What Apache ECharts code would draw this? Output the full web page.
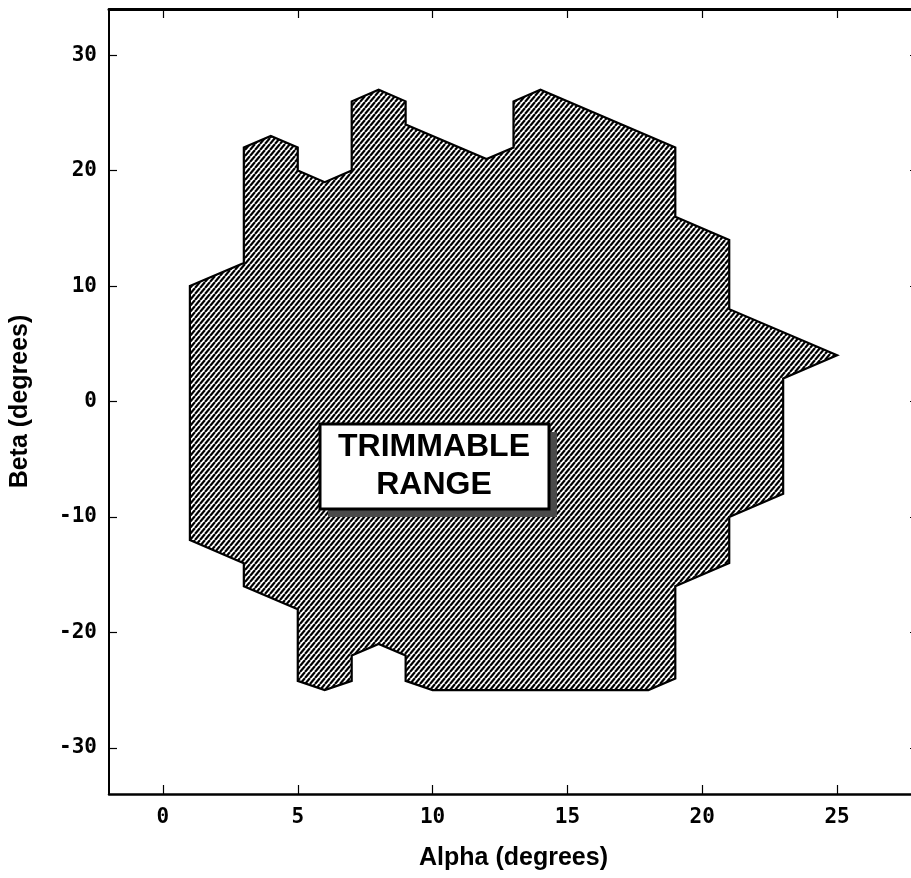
<!DOCTYPE html>
<html>
<head>
<meta charset="utf-8">
<script src="https://cdn.jsdelivr.net/npm/echarts@6/dist/echarts.min.js"></script>
<style>
html,body{margin:0;padding:0;background:#fff;}
#chart{width:911px;height:878px;}
</style>
</head>
<body>
<div id="chart"></div>
<script>
// Boundary of the trimmable range (polygon vertices, in order)
const alphaPts = [1, 3, 3, 4, 5, 5, 6, 7, 7, 8, 9, 9, 12, 13, 13, 14, 19, 19, 21, 21, 25, 23, 23, 21, 21, 19, 19, 18, 10, 9, 9, 8, 7, 7, 6, 5, 5, 3, 3, 1];
const betaPts  = [10, 12, 22, 23, 22, 20, 19, 20, 26, 27, 26, 24, 21, 22, 26, 27, 22, 16, 14, 8, 4, 2, -8, -10, -14, -16, -24, -25, -25, -24.2, -22, -21, -22, -24.2, -25, -24.2, -18, -16, -14, -12];

const xTicks = [0, 5, 10, 15, 20, 25];
const yTicks = [-30, -20, -10, 0, 10, 20, 30];
const xRange = [-2, 28];
const yRange = [-34, 34];
const xName = 'Alpha (degrees)';
const yName = 'Beta (degrees)';
const boxLines = ['TRIMMABLE', 'RANGE'];

// hatch pattern
function makeHatch() {
  const w = 5, h = 6;
  const c = document.createElement('canvas');
  c.width = w; c.height = h;
  const g = c.getContext('2d');
  g.fillStyle = '#fff';
  g.fillRect(0, 0, w, h);
  g.strokeStyle = '#000';
  g.lineWidth = 2.2;
  g.beginPath();
  for (let k = -1; k <= 1; k++) {
    g.moveTo(k * w, h);
    g.lineTo(k * w + w, 0);
  }
  g.stroke();
  return c;
}
const hatch = makeHatch();

const chart = echarts.init(document.getElementById('chart'));
const tickFont = { fontFamily: '"DejaVu Sans Mono", monospace', fontWeight: 'bold', fontSize: 21, color: '#000' };
const nameFont = { fontFamily: '"Liberation Sans", Arial, sans-serif', fontWeight: 'bold', fontSize: 25, color: '#000' };

const option = {
  animation: false,
  backgroundColor: '#fff',
  grid: { left: 109, top: 9, width: 809, height: 785, outerBoundsMode: 'none', containLabel: false },
  xAxis: [{
    type: 'value', min: xRange[0], max: xRange[1], position: 'bottom',
    name: xName, nameLocation: 'middle', nameGap: 52, nameTextStyle: nameFont,
    axisLine: { show: true, onZero: false, lineStyle: { color: '#000', width: 2.5 } },
    axisTick: { show: true, inside: true, length: 9, customValues: xTicks, lineStyle: { color: '#000', width: 1.2 } },
    axisLabel: { customValues: xTicks, margin: 13, ...tickFont },
    splitLine: { show: false }
  }, {
    type: 'value', min: xRange[0], max: xRange[1], position: 'top',
    axisLine: { show: true, onZero: false, lineStyle: { color: '#000', width: 3 } },
    axisTick: { show: true, inside: true, length: 9, customValues: xTicks, lineStyle: { color: '#000', width: 1.2 } },
    axisLabel: { show: false },
    splitLine: { show: false }
  }],
  yAxis: [{
    type: 'value', min: yRange[0], max: yRange[1], position: 'left',
    name: yName, nameLocation: 'middle', nameGap: 76, nameTextStyle: nameFont,
    axisLine: { show: true, onZero: false, lineStyle: { color: '#000', width: 2 } },
    axisTick: { show: true, inside: true, length: 8, customValues: yTicks, lineStyle: { color: '#000', width: 1.2 } },
    axisLabel: { customValues: yTicks, margin: 12, ...tickFont },
    splitLine: { show: false }
  }, {
    type: 'value', min: yRange[0], max: yRange[1], position: 'right',
    axisLine: { show: true, onZero: false, lineStyle: { color: '#000', width: 2 } },
    axisTick: { show: true, inside: true, length: 8, customValues: yTicks, lineStyle: { color: '#000', width: 1.2 } },
    axisLabel: { show: false },
    splitLine: { show: false }
  }],
  series: [{
    type: 'custom',
    xAxisIndex: 0, yAxisIndex: 0,
    data: alphaPts.map((a, i) => [a, betaPts[i]]),
    renderItem: function (params, api) {
      if (params.dataIndex !== 0) return null;
      const pts = alphaPts.map((a, i) => api.coord([a, betaPts[i]]));
      return {
        type: 'polygon',
        shape: { points: pts },
        style: { fill: { image: hatch, repeat: 'repeat' }, stroke: '#000', lineWidth: 2.2, lineJoin: 'miter' }
      };
    },
    silent: true
  }],
  graphic: [
    { type: 'rect', shape: { x: 328, y: 432, width: 229, height: 85 }, style: { fill: '#4a4a4a' }, z: 100 },
    { type: 'rect', shape: { x: 320, y: 424, width: 229, height: 85 }, style: { fill: '#fff', stroke: '#000', lineWidth: 3 }, z: 101 },
    { type: 'text', x: 434, y: 447, style: { text: boxLines[0], fill: '#000', font: 'bold 32px "Liberation Sans", Arial, sans-serif', align: 'center', verticalAlign: 'middle' }, z: 102 },
    { type: 'text', x: 434, y: 485, style: { text: boxLines[1], fill: '#000', font: 'bold 32px "Liberation Sans", Arial, sans-serif', align: 'center', verticalAlign: 'middle' }, z: 102 }
  ]
};
chart.setOption(option);
</script>
</body>
</html>
